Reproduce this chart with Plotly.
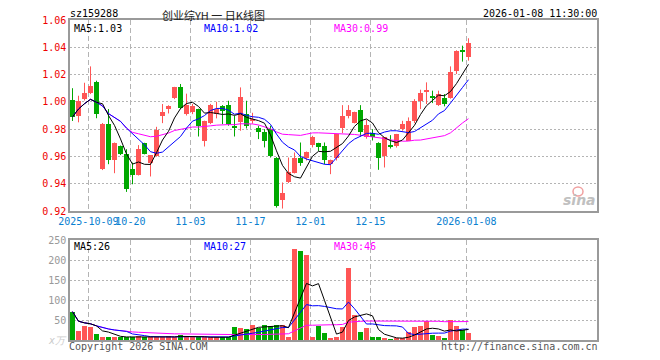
import plotly.graph_objects as go
import pandas as pd

dates = ["09-26", "09-29", "09-30", "2025-10-09", "10-10", "10-13", "10-14", "10-15", "10-16", "10-17",
         "10-20", "10-21", "10-22", "10-23", "10-24", "10-27", "10-28", "10-29", "10-30", "10-31",
         "11-03", "11-04", "11-05", "11-06", "11-07", "11-10", "11-11", "11-12", "11-13", "11-14",
         "11-17", "11-18", "11-19", "11-20", "11-21", "11-24", "11-25", "11-26", "11-27", "11-28",
         "12-01", "12-02", "12-03", "12-04", "12-05", "12-08", "12-09", "12-10", "12-11", "12-12",
         "12-15", "12-16", "12-17", "12-18", "12-19", "12-22", "12-23", "12-24", "12-25", "12-26",
         "12-29", "12-30", "12-31", "01-05", "01-06", "01-07", "2026-01-08"]

opens = [1.001, 0.990, 1.002, 1.0065, 1.0148, 0.951, 0.9837, 0.9575, 0.9673, 0.9617,
         0.9507, 0.9465, 0.9697, 0.9555, 0.960, 0.9893, 0.9947, 1.0025, 1.0106, 0.991,
         0.9923, 0.9947, 0.9715, 0.9844, 0.991, 0.9967, 0.9976, 0.9825, 0.985, 0.991,
         0.986, 0.9805, 0.9776, 0.980, 0.9592, 0.9281, 0.9409, 0.9477, 0.9592, 0.9592,
         0.9683, 0.9697, 0.9678, 0.9543, 0.9592, 0.9805, 0.9893, 0.9844, 0.9942, 0.9739,
         0.9771, 0.9702, 0.960, 0.9678, 0.9673, 0.980, 0.9715, 0.9861, 1.0008, 1.007,
         1.0038, 0.9976, 1.0028, 1.0025, 1.0229, 1.0383, 1.0327]
highs = [1.010, 1.0045, 1.014, 1.026, 1.0155, 0.9845, 0.9947, 0.9702, 0.968, 0.9653,
         0.9555, 0.9683, 0.970, 0.961, 0.9817, 0.9984, 0.9975, 1.011, 1.0131, 1.006,
         0.9985, 0.995, 0.9862, 0.9985, 1.0001, 0.9976, 1.0008, 0.9898, 1.0106, 1.0008,
         0.992, 0.9825, 0.980, 0.9825, 0.9595, 0.9409, 0.9592, 0.9629, 0.9702, 0.9636,
         0.9751, 0.970, 0.9702, 0.9577, 0.9765, 0.9976, 0.9976, 0.9928, 0.9976, 0.9869,
         0.980, 0.9704, 0.9740, 0.9756, 0.9765, 0.9861, 0.9886, 1.002, 1.0089, 1.0143,
         1.0082, 1.0082, 1.0057, 1.026, 1.0378, 1.0412, 1.0466]
lows = [0.986, 0.985, 1.001, 1.0057, 0.988, 0.950, 0.9543, 0.9477, 0.961, 0.934,
        0.9396, 0.946, 0.9615, 0.9453, 0.9598, 0.9844, 0.9915, 1.002, 0.9947, 0.990,
        0.991, 0.9746, 0.9673, 0.9837, 0.9879, 0.9837, 0.9825, 0.9746, 0.9788, 0.9805,
        0.984, 0.9727, 0.9666, 0.9592, 0.9225, 0.9218, 0.9405, 0.9475, 0.9531, 0.957,
        0.9666, 0.964, 0.9543, 0.947, 0.957, 0.9771, 0.9879, 0.9842, 0.9746, 0.973,
        0.9717, 0.9502, 0.9519, 0.9658, 0.9665, 0.9788, 0.9713, 0.9844, 0.9947, 0.9984,
        0.9991, 0.997, 0.9967, 1.0023, 1.0204, 1.0295, 1.0302]
closes = [0.989, 1.0005, 1.0065, 1.0114, 0.991, 0.9837, 0.9575, 0.9702, 0.9617, 0.936,
          0.9465, 0.9653, 0.9617, 0.961, 0.9795, 0.9927, 0.9972, 1.0106, 0.9954, 0.998,
          0.9972, 0.982, 0.9861, 0.9976, 0.9947, 0.9935, 0.9837, 0.981, 1.0033, 0.982,
          0.987, 0.978, 0.9715, 0.9604, 0.9237, 0.9335, 0.9487, 0.9592, 0.9555, 0.9634,
          0.9739, 0.9666, 0.9575, 0.9575, 0.9763, 0.9893, 0.9942, 0.9927, 0.978, 0.983,
          0.9746, 0.9592, 0.9739, 0.967, 0.9763, 0.9837, 0.9861, 1.0008, 1.0065, 1.0087,
          1.003, 1.0057, 0.9984, 1.0221, 1.0376, 1.0363, 1.0432]
volumes = [70.8, 23, 35, 33, 15, 8, 8, 8, 7, 7,
           7, 10, 7, 7, 7, 8, 10, 7, 13, 7,
           7, 7, 7, 7, 7, 7, 7, 32.5, 30, 27.5,
           37.5, 31, 37.5, 35, 37.5, 37.5, 7, 227.5, 222.5, 212.5,
           7, 35, 18, 6, 8, 32, 179, 63, 21, 31,
           8, 8, 4, 2, 5, 4, 19, 32, 36, 47,
           13, 10, 5, 51, 34, 25, 17]

label_dates = ["2025-10-09", "10-20", "11-03", "11-17", "12-01", "12-15", "2026-01-08"]
price_ticks = [0.92, 0.94, 0.96, 0.98, 1.00, 1.02, 1.04, 1.06]
vol_ticks = [50, 100, 150, 200, 250]

RED = "#ff5555"
GREEN = "#00a800"
MONO = "DejaVu Sans Mono"

n = len(dates)
idx = list(range(n))
up = [c >= o for o, c in zip(opens, closes)]
colors = [RED if u else GREEN for u in up]
body_low = [min(o, c) for o, c in zip(opens, closes)]
body_h = [max(abs(c - o), 0.0007) for o, c in zip(opens, closes)]

cs = pd.Series(closes)
vs = pd.Series(volumes)
ma = {w: cs.rolling(w, min_periods=1).mean() for w in (5, 10, 30)}
vma = {w: vs.rolling(w, min_periods=1).mean() for w in (5, 10, 30)}

fig = go.Figure()

# wicks
for col, flag in ((RED, True), (GREEN, False)):
    wx, wy = [], []
    for i in idx:
        if up[i] == flag:
            wx += [i, i, None]
            wy += [lows[i], highs[i], None]
    fig.add_trace(go.Scatter(x=wx, y=wy, mode="lines", line=dict(color=col, width=1),
                             hoverinfo="skip", xaxis="x", yaxis="y"))

fig.add_trace(go.Bar(x=idx, y=body_h, base=body_low, width=0.82, marker=dict(color=colors, line=dict(width=0)),
                     xaxis="x", yaxis="y"))

ma_colors = {5: "#000000", 10: "#0000ff", 30: "#ff00ff"}
for w in (30, 10, 5):
    fig.add_trace(go.Scatter(x=idx, y=ma[w], mode="lines", line=dict(color=ma_colors[w], width=1),
                             xaxis="x", yaxis="y"))

fig.add_trace(go.Bar(x=idx, y=volumes, width=0.82, marker=dict(color=colors, line=dict(width=0)),
                     xaxis="x2", yaxis="y2"))
for w in (30, 10, 5):
    fig.add_trace(go.Scatter(x=idx, y=vma[w], mode="lines", line=dict(color=ma_colors[w], width=1),
                             xaxis="x2", yaxis="y2"))

tickvals = [dates.index(d) - 0.35 for d in label_dates]

# page coordinates of the plot frame; the page body adds an 8px offset
OFF = 8
W, H = 660 - OFF, 360 - OFF
L, R, T, B = 70, 597, 20, 340


def px(x):
    return (x - L) / (R - L)


def py(y):
    return (B - y) / (B - T)


grid_common = dict(showgrid=True, gridcolor="#b4b4b4", gridwidth=1, zeroline=False,
                   showline=True, linecolor="#9a9a9a", linewidth=1.5, mirror=True, ticks="",
                   automargin=False, fixedrange=True)

fig.update_layout(
    width=W, height=H,
    margin=dict(l=L - OFF, r=W - (R - OFF), t=T - OFF, b=H - (B - OFF), autoexpand=False),
    paper_bgcolor="white", plot_bgcolor="white",
    showlegend=False, barmode="overlay", bargap=0,
    xaxis=dict(domain=[0, 1], anchor="y", range=[-0.417, 87.42], tickvals=tickvals, ticktext=label_dates,
               tickangle=0, griddash="5px,3px", tickfont=dict(family=MONO, size=10, color="#0a80d0"),
               **grid_common),
    yaxis=dict(domain=[py(211), 1], anchor="x", range=[0.92, 1.06], tickvals=price_ticks, tickformat=".2f",
               griddash="2px,2px", tickfont=dict(family=MONO, size=10, color="#ee0000"), **grid_common),
    xaxis2=dict(domain=[0, 1], anchor="y2", range=[-0.417, 87.42], tickvals=tickvals, showticklabels=False,
                griddash="5px,3px", **grid_common),
    yaxis2=dict(domain=[0, py(240)], anchor="x2", range=[0, 250], tickvals=vol_ticks,
                griddash="2px,2px", tickfont=dict(family=MONO, size=10, color="#999999"), **grid_common),
)

ann = []


def txt(x, y, s, color="#000", size=10, anchor="left", family=MONO, italic=False):
    ann.append(dict(xref="paper", yref="paper", x=px(x), y=py(y), text=s, showarrow=False,
                    xanchor=anchor, yanchor="middle", borderpad=0,
                    font=dict(family=family, size=size, color=color,
                              style="italic" if italic else "normal")))


txt(69, 14, "sz159288", "#000")
txt(213.5, 14.5, "创业综YH 一 日K线图", "#222", size=11, anchor="center", family="Noto Sans CJK SC")
txt(598, 14, "2026-01-08 11:30:00", "#000", anchor="right")
txt(73, 28, "MA5:%.2f" % ma[5].iloc[-1], "#000")
txt(203, 28, "MA10:%.2f" % ma[10].iloc[-1], "#0000ff")
txt(333, 28, "MA30:%.2f" % ma[30].iloc[-1], "#ff00ff")
txt(73, 246.5, "MA5:%d" % round(vma[5].iloc[-1]), "#000")
txt(203, 246.5, "MA10:%d" % round(vma[10].iloc[-1]), "#0000ff")
txt(333, 246.5, "MA30:%d" % round(vma[30].iloc[-1]), "#ff00ff")
txt(68, 346.5, "Copyright 2026 SINA.COM", "#555")
txt(599, 346.5, "http://finance.sina.com.cn", "#555", anchor="right")
txt(47, 340, "x万", "#cccccc", size=10, italic=True)
txt(597, 200, "<b>sina</b>", "#c0c0c0", size=14, anchor="right", family="DejaVu Sans", italic=True)
fig.update_layout(annotations=ann)

fig.add_shape(type="circle", xref="paper", yref="paper", x0=px(573), x1=px(583), y0=py(196), y1=py(187),
              line=dict(color="#f0a0a0", width=1.5), fillcolor="rgba(0,0,0,0)")

fig.write_html("out.html")
